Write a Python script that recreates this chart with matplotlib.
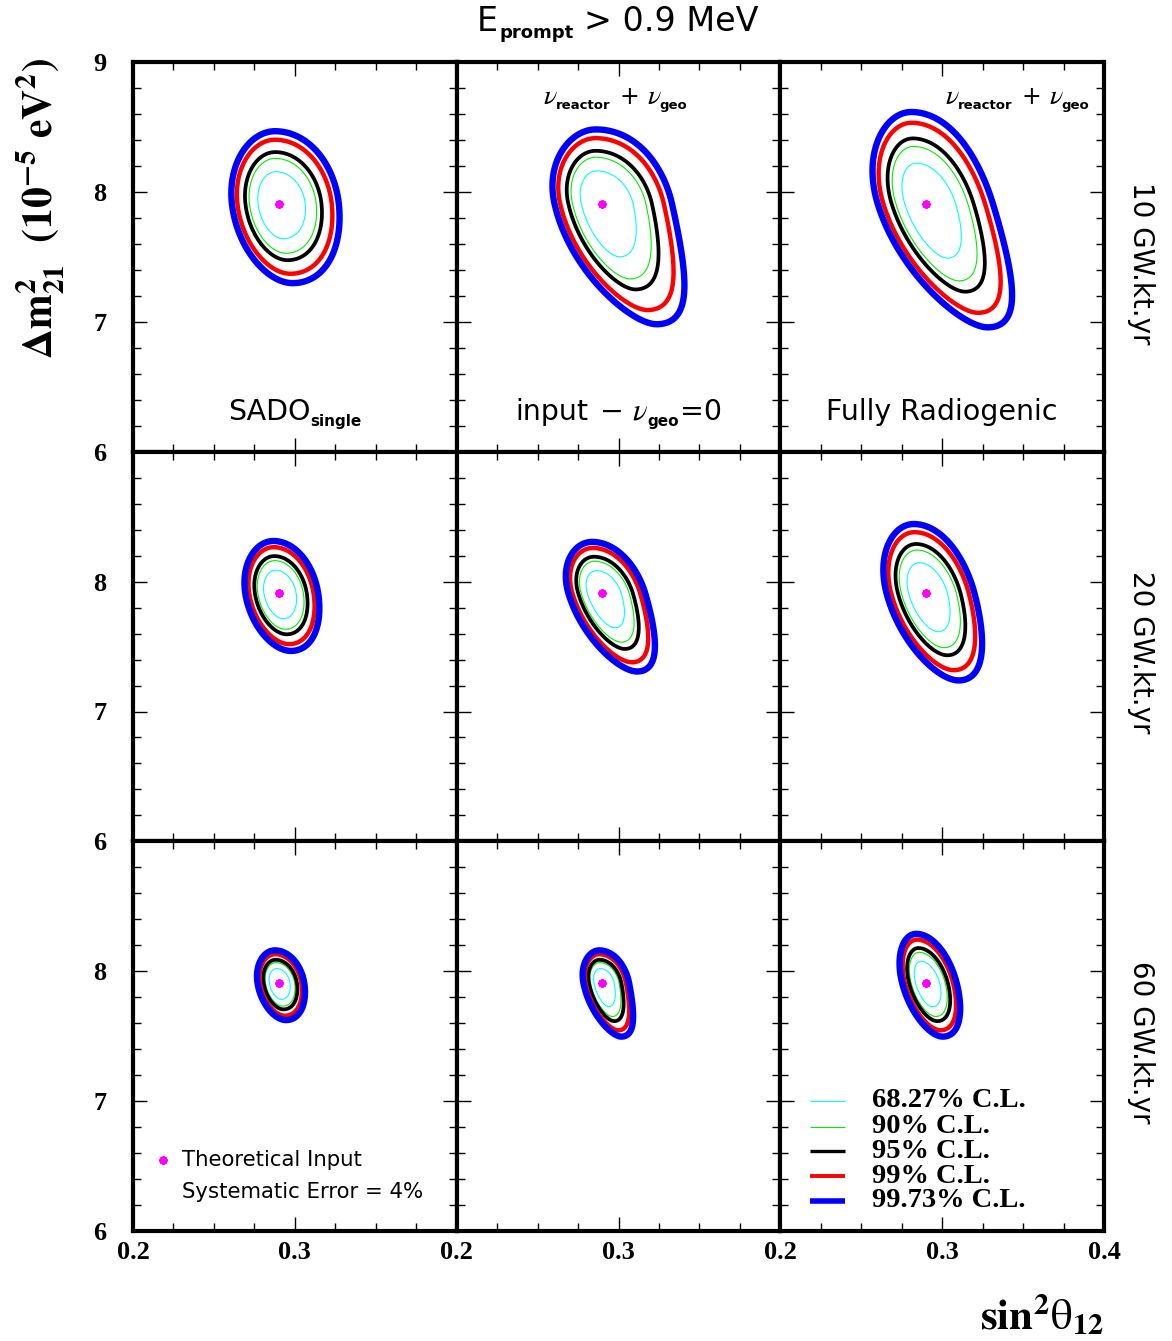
import numpy as np
import matplotlib
matplotlib.use("Agg")
import matplotlib.pyplot as plt
from matplotlib.ticker import MultipleLocator, FixedLocator, FixedFormatter
from matplotlib.transforms import offset_copy

# ---------------- data ----------------
row_labels = ["10 GW.kt.yr", "20 GW.kt.yr", "60 GW.kt.yr"]
best_fit_x = 0.29
best_fit_y = 7.91
cl_labels = ["68.27% C.L.", "90% C.L.", "95% C.L.", "99% C.L.", "99.73% C.L."]
dchi2_levels = [2.30, 4.61, 5.99, 9.21, 11.83]

# per-panel contour shape parameters [row][col]
sig_x_left = [[0.0084, 0.0086, 0.0087],
              [0.0060, 0.0061, 0.0071],
              [0.0038, 0.0034, 0.0043]]
sig_x_right = [[0.0108, 0.0125, 0.0120],
               [0.0071, 0.0077, 0.0087],
               [0.0046, 0.0048, 0.0055]]
sig_y_up = [[0.162, 0.166, 0.205],
            [0.117, 0.115, 0.155],
            [0.073, 0.073, 0.110]]
sig_y_down = [[0.178, 0.270, 0.277],
              [0.129, 0.175, 0.195],
              [0.083, 0.120, 0.120]]
# centre line of the contours: x_c = x0 + shear_lin*dy + shear_quad*dy^2
shear_lin = [[-0.0088, -0.0181, -0.0245],
             [-0.0123, -0.0238, -0.0212],
             [-0.0123, -0.0157, -0.0204]]
shear_quad = [[0.0086, 0.0194, 0.0163],
              [0.0106, 0.0197, 0.0131],
              [0.0130, 0.0308, 0.0112]]

x_ticks = [0.2, 0.3, 0.4]
y_ticks = [6, 7, 8, 9]

# ---------------- styles ----------------
line_colors = ["#00ffff", "#00ee00", "black", "red", "blue"]
line_widths = [0.8, 0.8, 2.7, 3.2, 4.6]
legend_widths = [0.8, 0.8, 2.4, 2.8, 4.0]

serif_bold = dict(family="Liberation Serif", weight="bold")
SANS = "DejaVu Sans"
W, H = 1172, 1341
fig = plt.figure(figsize=(W / 100, H / 100), dpi=100)
renderer = fig.canvas.get_renderer()

AX_L, AX_T, PW, PH = 133.0, 62.0, 323.7, 389.7

gx = np.linspace(0.2, 0.4, 801)
gy = np.linspace(6.0, 9.0, 1201)
GX, GY = np.meshgrid(gx, gy)


def chi2(r, c):
    dx = GX - best_fit_x
    dy = GY - best_fit_y
    sy = np.where(dy > 0, sig_y_up[r][c], sig_y_down[r][c])
    v = dy / sy
    w = dx - shear_lin[r][c] * dy - shear_quad[r][c] * dy ** 2
    sx = np.where(w > 0, sig_x_right[r][c], sig_x_left[r][c])
    u = w / sx
    return u ** 2 + v ** 2


def rich(x, y, pieces, transform, ha="center"):
    """pieces: (string, size, dy_px, gap_px, props)"""
    texts, widths = [], []
    for s, size, dy, gap, props in pieces:
        t = fig.text(x, y, s, fontsize=size, ha="left", va="baseline",
                     transform=transform, **props)
        texts.append(t)
        widths.append(t.get_window_extent(renderer).width + gap)
    total = sum(widths) - pieces[-1][3]
    start = {"left": 0, "center": -total / 2, "right": -total}[ha]
    cum = start
    for t, wdt, p in zip(texts, widths, pieces):
        t.set_transform(offset_copy(transform, fig=fig, x=cum, y=p[2], units="dots"))
        cum += wdt


axes = {}
for r in range(3):
    for c in range(3):
        left = (AX_L + c * PW) / W
        bottom = 1 - (AX_T + (r + 1) * PH) / H
        ax = fig.add_axes([left, bottom, PW / W, PH / H])
        axes[(r, c)] = ax
        ax.set_xlim(0.2, 0.4)
        ax.set_ylim(6, 9)
        ax.contour(GX, GY, chi2(r, c), levels=dchi2_levels,
                   colors=line_colors, linewidths=line_widths)
        ax.plot([best_fit_x], [best_fit_y], marker=(8, 2, 0), color="magenta",
                ms=6, mew=1.6, ls="none")
        for s in ax.spines.values():
            s.set_linewidth(3)
        ax.xaxis.set_major_locator(FixedLocator(x_ticks))
        ax.xaxis.set_minor_locator(MultipleLocator(0.025))
        ax.yaxis.set_major_locator(FixedLocator(y_ticks))
        ax.yaxis.set_minor_locator(MultipleLocator(0.2))
        ax.tick_params(which="both", direction="in", top=True, right=True, width=1)
        ax.tick_params(which="major", length=10)
        ax.tick_params(which="minor", length=6)
        ax.tick_params(axis="x", pad=7)
        ax.tick_params(axis="y", pad=19)
        if r == 2:
            labs = ["0.2", "0.3", "0.4" if c == 2 else ""]
            ax.xaxis.set_major_formatter(FixedFormatter(labs))
        else:
            ax.set_xticklabels([])
        if c == 0:
            labs = ["6", "7", "8", "9" if r == 0 else ""]
            ax.yaxis.set_major_formatter(FixedFormatter(labs))
        else:
            ax.set_yticklabels([])
        for lab in ax.get_xticklabels() + ax.get_yticklabels():
            lab.set_fontfamily("Liberation Serif")
            lab.set_fontweight("bold")
            lab.set_fontsize(19)

norm = dict(family=SANS)
subb = dict(family=SANS, weight="bold")
nu = dict(math_fontfamily="stix")

# column captions in the top row
rich(0.5, 0.082, [("SADO", 20.5, 0, 0, norm), ("single", 11, -6, 0, subb)],
     axes[(0, 0)].transAxes)
rich(0.5, 0.082, [("input", 20.5, 0, 12, norm), ("\u2212", 20.5, 0, 8, norm),
                  (r"$\nu$", 22, 0, -1, nu), ("geo", 11, -6, 1, subb),
                  ("=0", 20.5, 0, 0, norm)], axes[(0, 1)].transAxes)
rich(0.5, 0.082, [("Fully Radiogenic", 20.5, 0, 0, norm)], axes[(0, 2)].transAxes)

nu_pieces = [(r"$\nu$", 20, 0, -2, nu), ("reactor", 9.5, -5, 9, subb),
             ("+", 17, 0, 8, norm), (r"$\nu$", 20, 0, -2, nu), ("geo", 9.5, -5, 0, subb)]
rich(0.49, 0.893, nu_pieces, axes[(0, 1)].transAxes)
rich(0.955, 0.893, nu_pieces, axes[(0, 2)].transAxes, ha="right")

# right row labels
for r in range(3):
    yc = 1 - (AX_T + (r + 0.5) * PH + 6) / H
    fig.text(1141 / W, yc, row_labels[r], rotation=-90, ha="center", va="center",
             fontsize=20, family=SANS)

# title
rich(618 / W, 1 - 31 / H, [("E", 24, 0, 1, norm), ("prompt", 13, -7, 11, subb),
                           ("> 0.9 MeV", 24, 0, 0, norm)], fig.transFigure)

# axis titles
fig.text(40 / W, 1 - 58 / H, r"$\mathbf{\Delta m^{2}_{21}\ \ (10^{-5}\ eV^{2})}$",
         rotation=90, ha="center", va="top", fontsize=30, math_fontfamily="stix")
fig.text(1104 / W, 1 - 1315 / H, r"$\mathbf{sin^{2}}\mathrm{\theta}_{\mathbf{12}}$",
         ha="right", va="center", fontsize=31, math_fontfamily="stix")

# legend in bottom-right panel
axl = axes[(2, 2)]
leg_y = [0.334, 0.268, 0.205, 0.141, 0.078]
for i in range(5):
    axl.plot([0.092, 0.20], [leg_y[i], leg_y[i]], color=line_colors[i],
             lw=legend_widths[i], transform=axl.transAxes, solid_capstyle="butt")
    axl.text(0.283, leg_y[i], cl_labels[i], transform=axl.transAxes, ha="left",
             va="center", fontsize=20.5, **serif_bold)

# theoretical input note in bottom-left panel
axn = axes[(2, 0)]
axn.plot([0.093], [0.182], marker=(8, 2, 0), color="magenta", ms=6, mew=1.6,
         transform=axn.transAxes, ls="none")
axn.text(0.151, 0.182, "Theoretical Input", transform=axn.transAxes, ha="left",
         va="center", fontsize=15.3, family=SANS)
axn.text(0.151, 0.100, "Systematic Error = 4%", transform=axn.transAxes, ha="left",
         va="center", fontsize=15.3, family=SANS)

fig.savefig("out.png", dpi=100)
